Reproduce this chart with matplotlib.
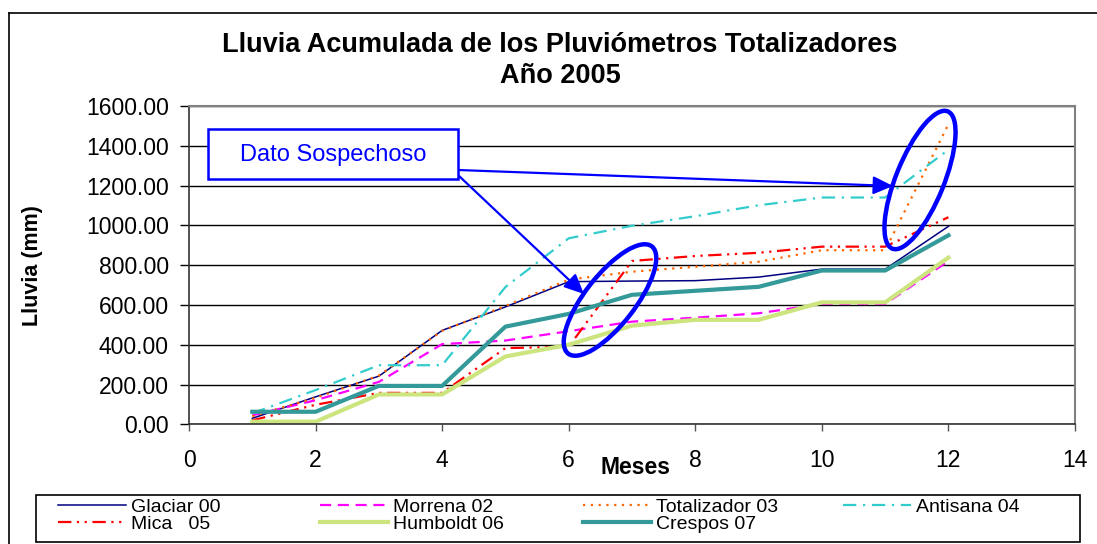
import matplotlib.pyplot as plt
import matplotlib as mpl
from matplotlib.patches import Ellipse, Rectangle
from matplotlib.lines import Line2D
from matplotlib.ticker import FormatStrFormatter

plt.rcParams['font.family'] = ['Liberation Sans', 'DejaVu Sans']

# accumulated rainfall (mm) per month, 2005
meses = [1, 2, 3, 4, 5, 6, 7, 8, 9, 10, 11, 12]
glaciar_00 = [30, 138, 242, 472, 590, 717, 720, 722, 740, 780, 780, 995]
morrena_02 = [45, 121, 213, 403, 421, 468, 516, 536, 558, 605, 605, 821]
totalizador_03 = [40, 133, 245, 470, 595, 727, 767, 792, 817, 875, 875, 1508]
antisana_04 = [55, 172, 297, 297, 690, 935, 998, 1046, 1101, 1140, 1140, 1380]
mica_05 = [20, 98, 158, 158, 383, 390, 821, 846, 862, 893, 893, 1041]
humboldt_06 = [13, 13, 150, 150, 341, 400, 496, 525, 525, 613, 613, 838]
crespos_07 = [63, 63, 193, 193, 491, 555, 651, 671, 691, 773, 773, 950]

x_ticks = [0, 2, 4, 6, 8, 10, 12, 14]
y_ticks = [0, 200, 400, 600, 800, 1000, 1200, 1400, 1600]

W, H = 1097, 544
fig = plt.figure(figsize=(W / 100, H / 100), dpi=100)
ax = fig.add_axes([189 / W, 1 - 424.3 / H, (1075 - 189) / W, (424.3 - 106) / H])


def fpos(x, y):
    # pixel position -> figure fraction
    return x / W, 1 - y / H


def inch(x, y):
    return x / 100, (H - y) / 100


series = [
    ('Glaciar 00', glaciar_00, dict(color='#000080', lw=1.1, ls='-')),
    ('Morrena 02', morrena_02, dict(color='#FF00FF', lw=1.6, ls=(0, (5, 3)))),
    ('Totalizador 03', totalizador_03, dict(color='#FF6600', lw=1.6, ls=(0, (1, 2.5)))),
    ('Antisana 04', antisana_04, dict(color='#33CCCC', lw=1.6, ls=(0, (6, 3, 1, 3)))),
    ('Mica   05', mica_05, dict(color='#FF0000', lw=1.6, ls=(0, (6, 2.5, 1, 2.5, 1, 2.5)))),
    ('Humboldt 06', humboldt_06, dict(color='#CCE57F', lw=3.0, ls='-')),
    ('Crespos 07', crespos_07, dict(color='#339999', lw=3.0, ls='-')),
]

handles = {}
for name, vals, style in series:
    ln, = ax.plot(meses, vals, label=name, **style)
    handles[name] = ln

ax.set_xlim(0, 14)
ax.set_ylim(0, 1600)
ax.set_xticks(x_ticks)
ax.set_yticks(y_ticks)
ax.yaxis.set_major_formatter(FormatStrFormatter('%.2f'))
ax.tick_params(axis='y', length=6.5, width=1, pad=8, labelsize=16.5, direction='out')
ax.tick_params(axis='x', length=5, width=1, pad=13, labelsize=16.5, direction='out',
               color='#555555')
ax.grid(axis='y', color='black', lw=1.0)
ax.set_axisbelow(True)
for side in ['top', 'right']:
    ax.spines[side].set_color('#808080')
    ax.spines[side].set_linewidth(1.5)
for side in ['left', 'bottom']:
    ax.spines[side].set_color('#333333')
    ax.spines[side].set_linewidth(1.2)

ax.set_ylabel('Lluvia (mm)', fontsize=15.5, fontweight='bold')
ax.yaxis.set_label_coords((43 - 189) / (1075 - 189), 0.5)
ax.set_xlabel('Meses', fontsize=16.5, fontweight='bold', va='center')
ax.xaxis.set_label_coords((636 - 189) / (1075 - 189), (424.3 - 467) / (424.3 - 106))

fig.text(*fpos(560, 45), 'Lluvia Acumulada de los Pluviómetros Totalizadores',
         ha='center', va='center', fontsize=19.5, fontweight='bold')
fig.text(*fpos(560, 76), 'Año 2005', ha='center', va='center', fontsize=19.5, fontweight='bold')

# outer chart border (left and top edges visible)
fig.add_artist(Line2D([9 / W, 9 / W], [0, 1 - 13 / H], transform=fig.transFigure,
                      color='black', lw=1.2))
fig.add_artist(Line2D([9 / W, 1], [1 - 13 / H, 1 - 13 / H], transform=fig.transFigure,
                      color='black', lw=1.2))

# annotation box
fig.add_artist(Rectangle(inch(208, 179), 2.50, 0.50, transform=fig.dpi_scale_trans,
                         fill=True, facecolor='white', edgecolor='#0000FF', lw=1.8, zorder=5))
fig.text(*fpos(333, 155), 'Dato Sospechoso', ha='center', va='center', fontsize=17,
         color='#0000FF', zorder=6)

arrow_kw = dict(arrowstyle='-|>,head_length=1.2,head_width=0.55', color='#0000FF',
                lw=1.6, shrinkA=0, shrinkB=0)
ax.annotate('', xy=fpos(584, 294), xytext=fpos(458, 175), xycoords='figure fraction',
            textcoords='figure fraction', arrowprops=arrow_kw, annotation_clip=False)
ax.annotate('', xy=fpos(893, 186), xytext=fpos(458, 170), xycoords='figure fraction',
            textcoords='figure fraction', arrowprops=arrow_kw, annotation_clip=False)

# ellipses around suspicious data
fig.add_artist(Ellipse(inch(610, 300), 1.36, 0.50, angle=52, transform=fig.dpi_scale_trans,
                       fill=False, edgecolor='#0000FF', lw=3.2, zorder=7))
fig.add_artist(Ellipse(inch(920, 180), 1.48, 0.48, angle=68, transform=fig.dpi_scale_trans,
                       fill=False, edgecolor='#0000FF', lw=3.2, zorder=7))

# legend: a frame with four equally spaced columns
fig.add_artist(Rectangle(fpos(36, 542), (1080 - 36) / W, 47 / H, transform=fig.transFigure,
                         fill=False, edgecolor='black', lw=1.2))
legend_cols = [['Glaciar 00', 'Mica   05'], ['Morrena 02', 'Humboldt 06'],
               ['Totalizador 03', 'Crespos 07'], ['Antisana 04']]
col_left = [58, 320, 583, 843]
for names, x0 in zip(legend_cols, col_left):
    leg = fig.legend([handles[n] for n in names], names, loc='upper left',
                     bbox_to_anchor=fpos(x0, 498), fontsize=14, handlelength=3.5,
                     handletextpad=0.25, borderpad=0, labelspacing=0.0,
                     frameon=False, borderaxespad=0)

fig.savefig('out.png', dpi=100)
